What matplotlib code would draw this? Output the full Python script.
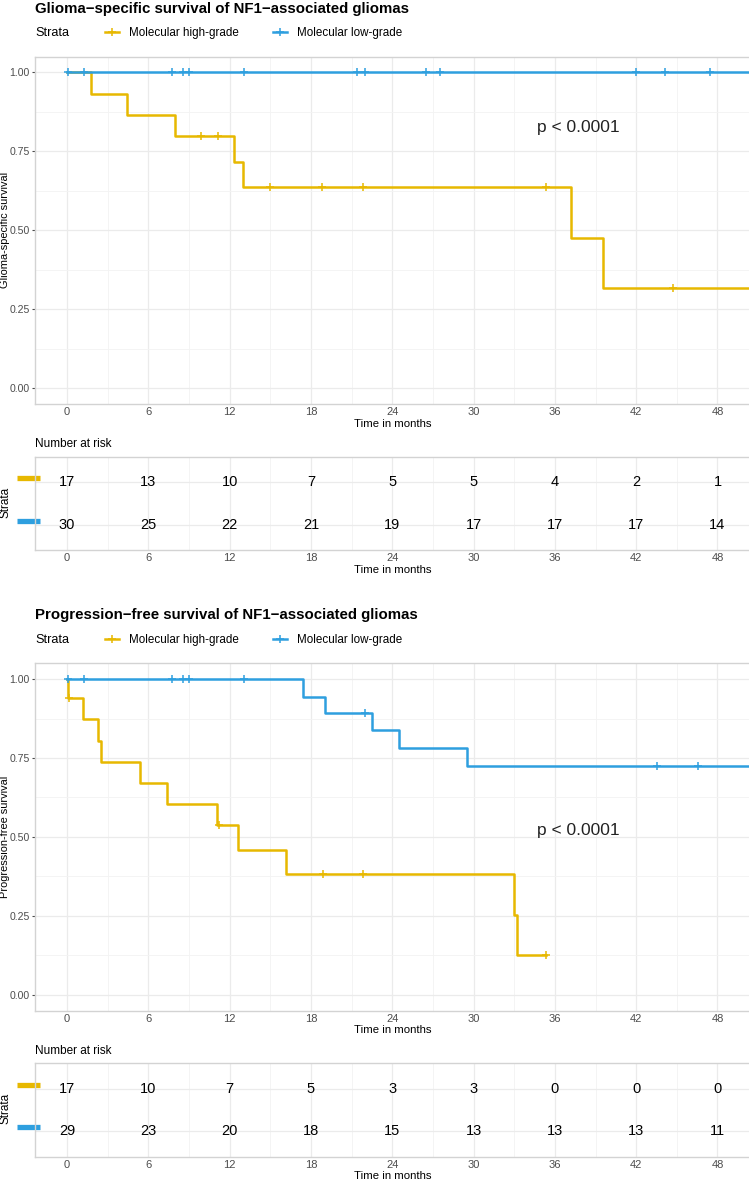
import numpy as np
import matplotlib
matplotlib.use("Agg")
import matplotlib.pyplot as plt
from matplotlib.lines import Line2D
from matplotlib.ticker import FixedLocator, MultipleLocator
import matplotlib.transforms as mtransforms

plt.rcParams["font.family"] = ["Liberation Sans", "DejaVu Sans"]

# ---- data ----
strata = ["Molecular high-grade", "Molecular low-grade"]
colors = ["#E7B800", "#2E9FDF"]
risk_times = [0, 6, 12, 18, 24, 30, 36, 42, 48]

# glioma-specific survival
gss_hg_time = [0, 1.75, 4.41, 7.97, 12.35, 13.01, 37.17, 39.53, 52]
gss_hg_surv = [1.0, 0.933, 0.866, 0.80, 0.718, 0.638, 0.477, 0.318, 0.318]
gss_hg_cens = [9.89, 11.17, 15.0, 18.84, 21.87, 35.35, 44.7]
gss_lg_time = [0, 52]
gss_lg_surv = [1.0, 1.0]
gss_lg_cens = [0.1, 1.28, 7.75, 8.58, 9.0, 13.08, 21.4, 22.0, 26.5, 27.5,
               42.0, 44.15, 47.45]
gss_risk_hg = [17, 13, 10, 7, 5, 5, 4, 2, 1]
gss_risk_lg = [30, 25, 22, 21, 19, 17, 17, 17, 14]

# progression-free survival
pfs_hg_time = [0, 0.1, 1.16, 2.26, 2.51, 5.39, 7.40, 11.05, 12.6, 16.16,
               32.99, 33.19, 35.35]
pfs_hg_surv = [1.0, 0.941, 0.872, 0.804, 0.737, 0.670, 0.603, 0.538, 0.460,
               0.383, 0.253, 0.127, 0.127]
pfs_hg_cens = [0.15, 11.2, 18.87, 21.82, 35.35]
pfs_lg_time = [0, 17.39, 19.07, 22.53, 24.5, 29.5, 52]
pfs_lg_surv = [1.0, 0.944, 0.893, 0.838, 0.782, 0.725, 0.725]
pfs_lg_cens = [0.1, 1.28, 7.75, 8.58, 8.98, 13.08, 22.0, 43.57, 46.55]
pfs_risk_hg = [17, 10, 7, 5, 3, 3, 0, 0, 0]
pfs_risk_lg = [29, 23, 20, 18, 15, 13, 13, 13, 11]

W, H = 749, 1180
fig = plt.figure(figsize=(W / 100, H / 100), dpi=100)

def fx(px):
    return px / W

def fy(px):
    return 1 - px / H

def add_axes(top, bottom, left=34.5, right=750):
    return fig.add_axes([fx(left), fy(bottom), fx(right - left), (bottom - top) / H])

TICK_C = "#4D4D4D"
GRID_MAJ = "#EBEBEB"
GRID_MIN = "#F3F3F3"

def style_axes(ax):
    ax.set_xlim(-2.4, 50.4)
    ax.xaxis.set_major_locator(MultipleLocator(6))
    ax.xaxis.set_minor_locator(MultipleLocator(3))
    ax.grid(True, which="major", color=GRID_MAJ, lw=0.9)
    ax.grid(True, which="minor", color=GRID_MIN, lw=0.6)
    ax.set_axisbelow(True)
    for s in ax.spines.values():
        s.set_color("#D3D3D3")
        s.set_linewidth(1.0)
    ax.tick_params(axis="x", length=0, pad=2.5, labelsize=8, labelcolor=TICK_C)
    ax.tick_params(axis="x", which="minor", length=0)
    ax.set_xlabel("Time in months", fontsize=8.2, labelpad=0.8)


def km_panel(top, title, ylabel, curves, pval_xy):
    ax = add_axes(top + 56.7, top + 404)
    style_axes(ax)
    ax.set_ylim(-0.05, 1.05)
    ax.yaxis.set_major_locator(FixedLocator([0, 0.25, 0.5, 0.75, 1.0]))
    ax.set_yticklabels(["0.00", "0.25", "0.50", "0.75", "1.00"])
    ax.yaxis.set_minor_locator(FixedLocator([0.125, 0.375, 0.625, 0.875]))
    ax.tick_params(axis="y", length=2.5, width=0.8, color=TICK_C, pad=1,
                   labelsize=7.6, labelcolor=TICK_C)
    ax.tick_params(axis="y", which="minor", length=0)
    handles = []
    for (t, s, c), col, lab in zip(curves, colors, strata):
        t = np.array(t)
        s = np.array(s)
        ax.step(t, s, where="post", color=col, lw=1.8)
        c = np.array(c)
        lev = s[np.searchsorted(t, c, side="right") - 1]
        ax.plot(c, lev, ls="none", marker="+", ms=6, mew=1.1, color=col)
        handles.append(Line2D([], [], color=col, lw=1.8, marker="+", ms=6, mew=1.1))
    ax.text(pval_xy[0], pval_xy[1], "p < 0.0001", fontsize=12.5,
            ha="center", va="center", color="#222222")
    fig.text(fx(35), fy(top + 8.5), title, fontsize=10.8, weight="bold",
             ha="left", va="center")
    fig.text(fx(35), fy(top + 33.3), "Strata", fontsize=9.2, ha="left", va="center")
    fig.legend(handles, strata, loc="center left",
               bbox_to_anchor=(fx(105), fy(top + 33.3)), ncol=2, frameon=False,
               fontsize=8.4, handlelength=1.2, handletextpad=0.85,
               columnspacing=2.9, borderpad=0, borderaxespad=0, numpoints=1)
    fig.text(fx(5), fy(top + 230), ylabel, rotation=90, fontsize=7.9,
             ha="center", va="center")
    return ax


def risk_panel(top, risk_hg, risk_lg):
    ax = add_axes(top + 456.7, top + 550)
    style_axes(ax)
    ax.set_ylim(0.4, 2.6)
    ax.yaxis.set_major_locator(FixedLocator([1, 2]))
    ax.yaxis.set_minor_locator(FixedLocator([]))
    ax.tick_params(axis="y", length=0, labelleft=False)
    for row, vals in zip([2, 1], [risk_hg, risk_lg]):
        for t, n in zip(risk_times, vals):
            ax.text(t, row, str(n), fontsize=10.5, ha="center", va="center")
    trans = mtransforms.blended_transform_factory(fig.transFigure, ax.transData)
    for row, col in zip([2, 1], colors):
        ax.plot([fx(16.7), fx(40)], [row + 0.095, row + 0.095], color=col, lw=3.8,
                transform=trans, clip_on=False, solid_capstyle="butt")
    fig.text(fx(35), fy(top + 444), "Number at risk", fontsize=8.5,
             ha="left", va="center")
    fig.text(fx(5.5), fy(top + 502), "Strata", rotation=90, fontsize=8.5,
             ha="center", va="center")
    return ax


km_panel(0, "Glioma\u2212specific survival of NF1\u2212associated gliomas",
         "Glioma-specific survival",
         [(gss_hg_time, gss_hg_surv, gss_hg_cens),
          (gss_lg_time, gss_lg_surv, gss_lg_cens)], (37.7, 0.826))
risk_panel(0, gss_risk_hg, gss_risk_lg)

off = 606.6
km_panel(off, "Progression\u2212free survival of NF1\u2212associated gliomas",
         "Progression-free survival",
         [(pfs_hg_time, pfs_hg_surv, pfs_hg_cens),
          (pfs_lg_time, pfs_lg_surv, pfs_lg_cens)], (37.7, 0.521))
risk_panel(off, pfs_risk_hg, pfs_risk_lg)

fig.savefig("out.png", dpi=100)
